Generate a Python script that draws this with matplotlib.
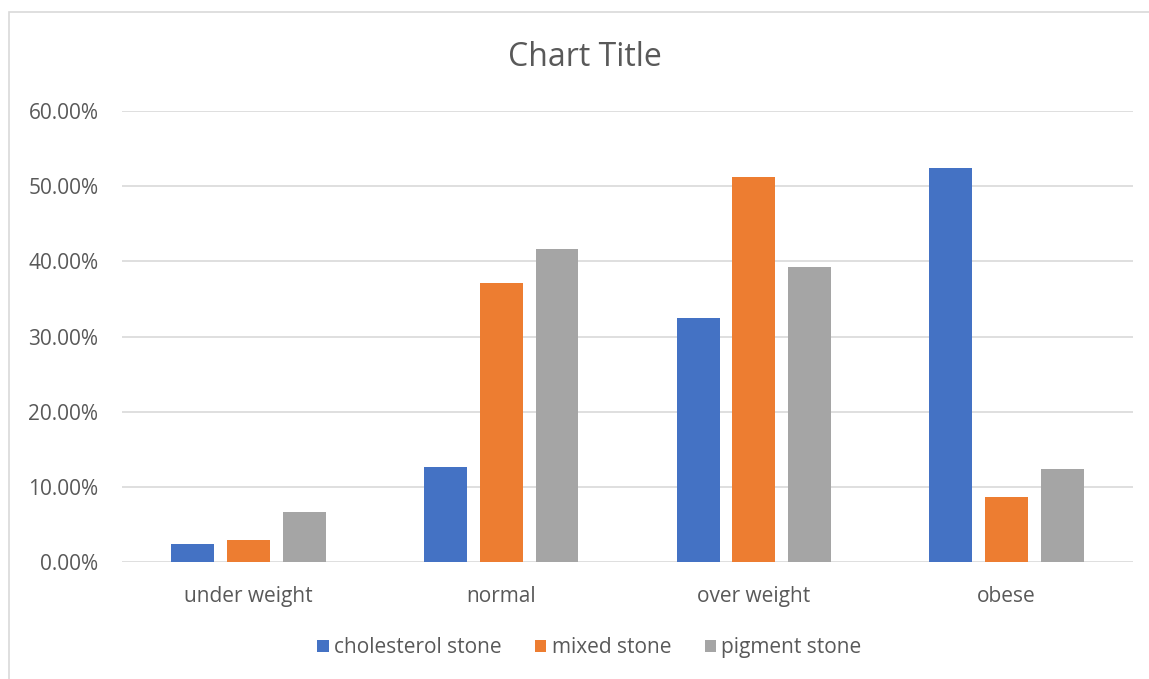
import numpy as np
import matplotlib.pyplot as plt
from matplotlib.patches import Rectangle
from matplotlib.ticker import PercentFormatter

categories = ['under weight', 'normal', 'over weight', 'obese']
series_names = ['cholesterol stone', 'mixed stone', 'pigment stone']
cholesterol = [0.0239, 0.1264, 0.3250, 0.5247]
mixed = [0.0297, 0.3716, 0.5126, 0.0863]
pigment = [0.0665, 0.4169, 0.3920, 0.1241]
colors = ['#4472C4', '#ED7D31', '#A5A5A5']

plt.rcParams['font.family'] = ['Open Sans', 'DejaVu Sans']
txt = '#595959'

fig = plt.figure(figsize=(11.49, 6.79), dpi=100)
ax = fig.add_axes([0.1062, 0.1723, 0.8799, 0.6642])

# outer chart frame
fig.patches.append(Rectangle((9/1149, -0.01), 1.2, 1 - 12/679 + 0.01,
                             transform=fig.transFigure, fill=False,
                             edgecolor='#D9D9D9', lw=1.2))

x = np.arange(len(categories))
w = 0.17
step = 0.221
for i, (vals, name) in enumerate(zip([cholesterol, mixed, pigment], series_names)):
    ax.bar(x + (i - 1) * step, vals, width=w, color=colors[i], label=name, zorder=3)

ax.set_xlim(-0.5, 3.5)
ax.set_ylim(0, 0.6)
ax.set_yticks(np.arange(0, 0.61, 0.1))
ax.yaxis.set_major_formatter(PercentFormatter(1.0, decimals=2))
ax.set_xticks(x)
ax.set_xticklabels(categories)
ax.grid(axis='y', color='#D9D9D9', lw=1.2, zorder=0)
for s in ax.spines.values():
    s.set_visible(False)
ax.tick_params(length=0, labelsize=15, colors=txt)
ax.tick_params(axis='x', pad=17)
ax.tick_params(axis='y', pad=17)

fig.text(0.509, 0.916, 'Chart Title', ha='center', va='center', fontsize=23, color=txt)

fig.legend(loc='center', bbox_to_anchor=(0.513, 0.046), ncol=3, frameon=False,
           fontsize=15, labelcolor=txt, handlelength=0.55, handleheight=0.55,
           handletextpad=0.25, columnspacing=1.6)

fig.savefig('out.png', dpi=100)
